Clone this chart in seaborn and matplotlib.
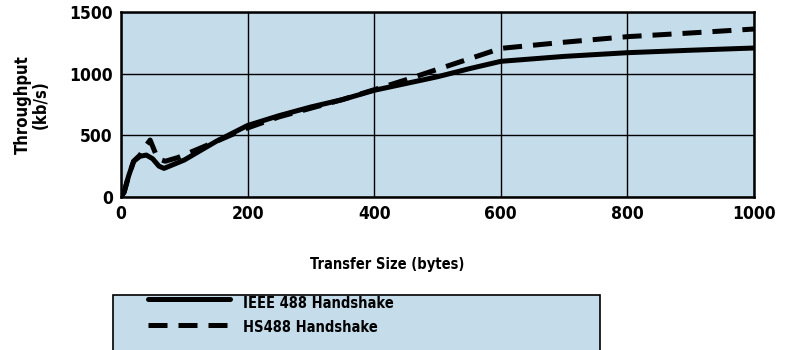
import matplotlib
matplotlib.use("Agg")
import matplotlib.pyplot as plt
import seaborn as sns
import pandas as pd
from matplotlib.patches import Rectangle
from matplotlib import font_manager

sizes_ieee = [0, 5, 12, 20, 30, 40, 50, 60, 68, 100, 150, 200, 250, 300, 350, 400, 450, 500, 550, 600, 700, 800, 900, 1000]
thru_ieee = [0, 40, 170, 290, 330, 340, 310, 250, 232, 300, 450, 580, 660, 730, 790, 865, 920, 975, 1040, 1100, 1140, 1170, 1190, 1208]
sizes_hs = [0, 5, 12, 20, 30, 40, 46, 58, 70, 90, 150, 200, 250, 300, 350, 400, 450, 500, 550, 600, 700, 800, 900, 1000]
thru_hs = [0, 40, 170, 290, 340, 420, 462, 310, 290, 320, 450, 560, 650, 720, 790, 870, 950, 1035, 1120, 1205, 1255, 1300, 1330, 1362]
series_names = ["IEEE 488 Handshake", "HS488 Handshake"]
x_ticks = [0, 200, 400, 600, 800, 1000]
y_ticks = [0, 500, 1000, 1500]

df = pd.concat([
    pd.DataFrame({"size": sizes_ieee, "thru": thru_ieee, "series": series_names[0]}),
    pd.DataFrame({"size": sizes_hs, "thru": thru_hs, "series": series_names[1]}),
])

sns.set_theme(style="white")
names = {f.name for f in font_manager.fontManager.ttflist}
fam = 'Liberation Sans Narrow' if 'Liberation Sans Narrow' in names else 'DejaVu Sans'
plt.rcParams['font.family'] = [fam, 'DejaVu Sans']
plt.rcParams['font.stretch'] = 'condensed'
plt.rcParams['text.color'] = 'black'
plt.rcParams['xtick.color'] = 'black'
plt.rcParams['ytick.color'] = 'black'
plt.rcParams['axes.labelcolor'] = 'black'
bg = "#c5dcea"
dash = (3.8, 2.2)

fig = plt.figure(figsize=(7.87, 3.5), dpi=100)
ax = fig.add_axes([121/787, 1-197/350, (754-121)/787, (197-12)/350])
ax.set_facecolor(bg)

sns.lineplot(data=df, x="size", y="thru", style="series", color="black",
             dashes={series_names[0]: "", series_names[1]: dash},
             linewidth=3.6, ax=ax, legend=False, sort=False)

ax.set_xlim(0, 1000)
ax.set_ylim(0, 1500)
ax.set_xticks(x_ticks)
ax.set_yticks(y_ticks)
ax.grid(True, color="black", linewidth=1.0)
ax.set_axisbelow(True)
for s in ax.spines.values():
    s.set_color("black")
    s.set_linewidth(1.8)
ax.tick_params(length=0, labelsize=12.5, pad=6)
for lab in ax.get_xticklabels() + ax.get_yticklabels():
    lab.set_fontweight("bold")
ax.set_xlabel("")
ax.set_ylabel("Throughput\n(kb/s)", fontsize=12, fontweight="bold", labelpad=14, linespacing=1.0)

fig.text(387/787, 1-265/350, "Transfer Size (bytes)", ha="center", va="center",
         fontsize=10.5, fontweight="bold")

top = 1-295/350
rect = Rectangle((113/787, top - 0.3), (600-113)/787, 0.3, transform=fig.transFigure,
                 facecolor=bg, edgecolor="black", linewidth=1.2, clip_on=False, zorder=0)
fig.patches.append(rect)

l1 = plt.Line2D([148/787, 230/787], [1-299/350, 1-299/350], transform=fig.transFigure,
                color="black", linewidth=3.6)
l2 = plt.Line2D([148/787, 230/787], [1-325/350, 1-325/350], transform=fig.transFigure,
                color="black", linewidth=3.6, dashes=dash)
fig.lines.extend([l1, l2])
fig.text(243/787, 1-303/350, series_names[0], ha="left", va="center", fontsize=10.5, fontweight="bold")
fig.text(243/787, 1-328/350, series_names[1], ha="left", va="center", fontsize=10.5, fontweight="bold")

fig.savefig("out.png", dpi=100)
